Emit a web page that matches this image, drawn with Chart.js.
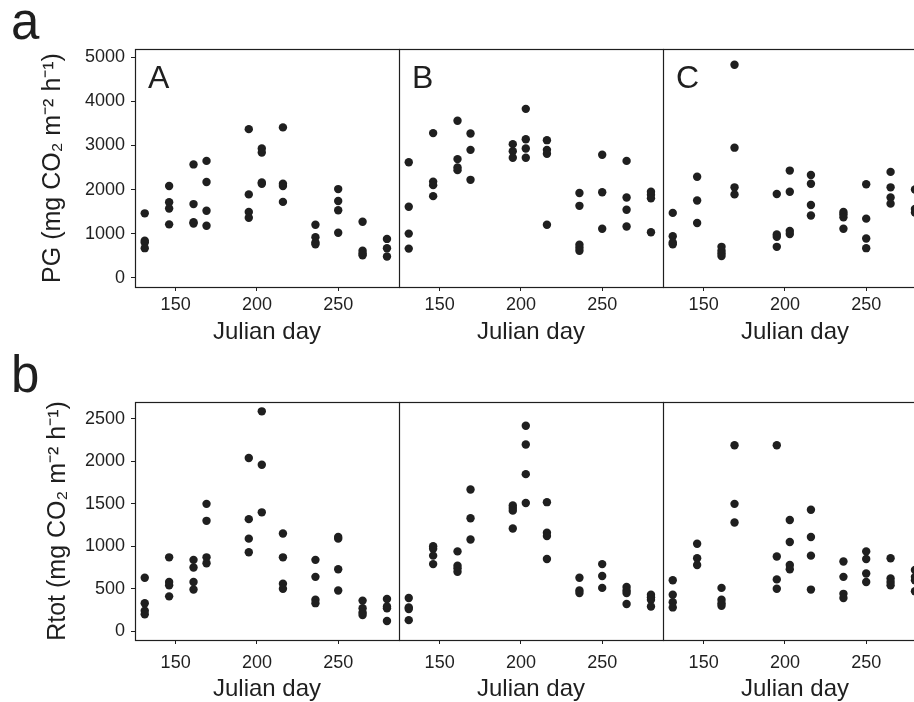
<!DOCTYPE html>
<html>
<head>
<meta charset="utf-8">
<script src="https://cdn.jsdelivr.net/npm/chart.js@4"></script>
<style>
  html, body { margin: 0; padding: 0; background: #fff; width: 914px; height: 702px; overflow: hidden; }
  body { position: relative; font-family: "Liberation Sans", Arial, sans-serif; }
  canvas { position: absolute; }
  .tag { position: absolute; font-size: 51px; line-height: 51px; color: #1f1f1f; }
</style>
</head>
<body>
<div class="tag" style="left:11px; top:-4px">a</div>
<div class="tag" style="left:11px; top:349px">b</div>
<canvas id="pgA" width="400" height="350" style="left:0; top:0"></canvas>
<canvas id="pgB" width="265" height="350" style="left:399px; top:0"></canvas>
<canvas id="pgC" width="265" height="350" style="left:663px; top:0"></canvas>
<canvas id="rtA" width="400" height="360" style="left:0; top:350px"></canvas>
<canvas id="rtB" width="265" height="360" style="left:399px; top:350px"></canvas>
<canvas id="rtC" width="265" height="360" style="left:663px; top:350px"></canvas>
<script>
// sampling dates (Julian day), each row of a panel holds the plot values for that date
const days = [131, 146, 161, 169, 195, 203, 216, 236, 250, 265, 280];
const dayTicks = [150, 200, 250];
const pgTicks = [0, 1000, 2000, 3000, 4000, 5000];
const rtTicks = [0, 500, 1000, 1500, 2000, 2500];

// PG (mg CO2 m-2 h-1)
const pgA = [
  [1460, 840, 800, 670], [2080, 1710, 1570, 1210], [2570, 1670, 1260, 1230], [2650, 2170, 1520, 1180],
  [3370, 1890, 1490, 1360], [2930, 2840, 2160, 2130], [3410, 2130, 2080, 1720], [1200, 920, 800, 760],
  [2010, 1740, 1530, 1020], [1270, 610, 550, 510], [880, 670, 480]
];
const pgB = [
  [2620, 1610, 1000, 660], [3280, 2180, 2100, 1850], [3560, 2690, 2500, 2440], [3270, 2900, 2220],
  [3030, 2870, 2720], [3830, 3140, 2930, 2720], [3120, 2900, 2810, 1200], [1920, 1630, 750, 680, 610],
  [2790, 1940, 1110], [2650, 1820, 1540, 1160], [1950, 1880, 1800, 1030]
];
const pgC = [
  [1470, 940, 800, 760], [2290, 1750, 1240], [700, 610, 550, 490], [4830, 2950, 2050, 1890],
  [1900, 980, 930, 700], [2430, 1950, 1060, 990], [2330, 2130, 1650, 1410], [1490, 1440, 1370, 1110],
  [2120, 1340, 890, 670], [2400, 2050, 1820, 1680], [2000, 1560, 1480]
];

// Rtot (mg CO2 m-2 h-1)
const rtA = [
  [630, 330, 240, 200], [870, 580, 540, 410], [840, 750, 580, 490], [1500, 1300, 870, 800],
  [2040, 1320, 1090, 930], [2590, 1960, 1400], [1150, 870, 560, 500], [840, 640, 370, 330],
  [1110, 1090, 730, 480], [360, 270, 220, 190], [380, 290, 270, 120]
];
const rtB = [
  [390, 280, 260, 130], [1000, 970, 890, 790], [940, 770, 740, 700], [1670, 1330, 1080],
  [1480, 1450, 1420, 1210], [2420, 2200, 1850, 1510], [1520, 1160, 1120, 850], [630, 480, 450],
  [790, 650, 510], [520, 480, 450, 320], [430, 400, 370, 290]
];
const rtC = [
  [600, 430, 340, 280], [1030, 860, 780], [510, 370, 330, 300], [2190, 1500, 1280],
  [2190, 880, 610, 500], [1310, 1050, 780, 730], [1430, 1110, 890, 490], [820, 640, 440, 390],
  [940, 850, 680, 580], [860, 620, 580, 540], [720, 640, 600, 470]
];

const FONT = '"Liberation Sans", Arial, sans-serif';
const INK = '#1f1f1f';

// box round each panel plus the A/B/C letter
const frame = {
  id: 'panelFrame',
  afterDraw(chart, args, opts) {
    const { ctx, chartArea: a } = chart;
    ctx.save();
    ctx.strokeStyle = INK;
    ctx.lineWidth = 1.2;
    ctx.strokeRect(a.left + 0.5, a.top + 0.5, a.right - a.left, a.bottom - a.top);
    if (opts.label) {
      ctx.fillStyle = INK;
      ctx.font = '32px ' + FONT;
      ctx.textBaseline = 'alphabetic';
      ctx.fillText(opts.label, a.left + 13, a.top + 39);
    }
    ctx.restore();
  }
};

const toPoints = (values) => {
  const pts = [];
  days.forEach((d, i) => values[i].forEach(v => pts.push({ x: d, y: v })));
  return pts;
};

const plain = (v) => String(v);

const makePanel = (id, values, p) => {
  const showY = !!p.yTitle;
  return new Chart(document.getElementById(id), {
    type: 'scatter',
    data: {
      datasets: [{
        data: toPoints(values),
        pointRadius: 4.2,
        pointBackgroundColor: INK,
        pointBorderWidth: 0
      }]
    },
    options: {
      responsive: false,
      animation: false,
      layout: { autoPadding: false, padding: { top: p.top, right: 1, left: 0, bottom: 0 } },
      plugins: {
        legend: { display: false },
        tooltip: { enabled: false },
        panelFrame: { label: p.label }
      },
      scales: {
        x: {
          type: 'linear',
          min: 125,
          max: 287.4,
          afterBuildTicks: s => { s.ticks = dayTicks.map(v => ({ value: v })); },
          afterFit: s => { s.height = p.xh; },
          grid: { drawOnChartArea: false, tickLength: 4, color: INK, lineWidth: 1 },
          border: { display: false },
          ticks: { color: INK, font: { family: FONT, size: 18 }, padding: p.tickPad, maxRotation: 0, callback: plain },
          title: {
            display: true,
            text: 'Julian day',
            color: INK,
            font: { family: FONT, size: 24 },
            padding: { top: 0, bottom: p.titlePad }
          }
        },
        y: {
          display: showY,
          min: p.ymin,
          max: p.ymax,
          afterBuildTicks: s => { s.ticks = p.yTicks.map(v => ({ value: v })); },
          afterFit: s => { s.width = showY ? 135 : 0; },
          grid: { drawOnChartArea: false, tickLength: 4, color: INK, lineWidth: 1 },
          border: { display: false },
          ticks: { color: INK, font: { family: FONT, size: 18 }, padding: 6, callback: plain },
          title: {
            display: showY,
            text: p.yTitle,
            color: INK,
            font: { family: FONT, size: 25 },
            padding: { top: p.yTitlePad, bottom: 0 }
          }
        }
      }
    },
    plugins: [frame]
  });
};

const pgRow = { top: 49, xh: 63, tickPad: 3, titlePad: 3, ymin: -211, ymax: 5188, yTicks: pgTicks };
const rtRow = { top: 52, xh: 70, tickPad: 8, titlePad: 6, ymin: -104, ymax: 2700, yTicks: rtTicks };

makePanel('pgA', pgA, { ...pgRow, label: 'A', yTitle: 'PG (mg CO₂ m⁻² h⁻¹)', yTitlePad: 38 });
makePanel('pgB', pgB, { ...pgRow, label: 'B' });
makePanel('pgC', pgC, { ...pgRow, label: 'C' });
makePanel('rtA', rtA, { ...rtRow, yTitle: 'Rtot (mg CO₂ m⁻² h⁻¹)', yTitlePad: 43 });
makePanel('rtB', rtB, rtRow);
makePanel('rtC', rtC, rtRow);
</script>
</body>
</html>
